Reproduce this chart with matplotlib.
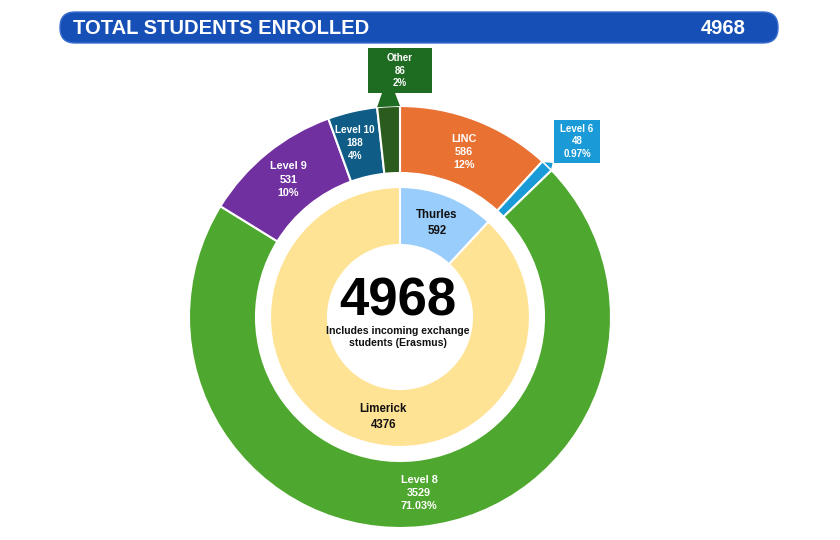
import numpy as np
import matplotlib
matplotlib.use("Agg")
import matplotlib.pyplot as plt
from matplotlib.patches import FancyBboxPatch, Rectangle, Polygon

plt.rcParams['font.family'] = ['Liberation Sans', 'DejaVu Sans']

total = 4968

# outer ring: level of study
levels = ['LINC', 'Level 6', 'Level 8', 'Level 9', 'Level 10', 'Other']
level_counts = [586, 48, 3529, 531, 188, 86]
level_pcts = ['12%', '0.97%', '71.03%', '10%', '4%', '2%']
level_colors = ['#e97132', '#1a9bd7', '#4ea72e', '#7030a0', '#0f5d87', '#2b5b1d']

# inner ring: campus
campuses = ['Thurles', 'Limerick']
campus_counts = [592, 4376]
campus_colors = ['#99cdfb', '#ffe394']

W, H = 840, 540
fig = plt.figure(figsize=(8.4, 5.4), dpi=100)
ax = fig.add_axes([0, 0, 1, 1])
ax.set_xlim(0, W)
ax.set_ylim(0, H)
ax.set_aspect('equal')
ax.axis('off')

cx, cy = 400, H - 317
r_out, w_out = 211, 67
r_in, w_in = 130, 58

# banner
ax.add_patch(FancyBboxPatch((60, H - 43), 718, 31,
                            boxstyle="round,pad=0,rounding_size=15",
                            fc='#1650b7', ec='#3a6fd0', lw=1))
ax.text(73, H - 28, 'TOTAL STUDENTS ENROLLED', color='white', fontsize=14.5,
        fontweight='bold', va='center', ha='left')
ax.text(746, H - 28, f'{total}', color='white', fontsize=14.5,
        fontweight='bold', va='center', ha='right')

wo, _ = ax.pie(level_counts, radius=r_out, center=(cx, cy), startangle=90,
               counterclock=False, colors=level_colors,
               wedgeprops=dict(width=w_out, edgecolor='white', linewidth=1.5))
wi, _ = ax.pie(campus_counts, radius=r_in, center=(cx, cy), startangle=90,
               counterclock=False, colors=campus_colors,
               wedgeprops=dict(width=w_in, edgecolor='white', linewidth=1.5))
ax.set_xlim(0, W)
ax.set_ylim(0, H)

def polar(ang, r):
    a = np.deg2rad(ang)
    return cx + r * np.cos(a), cy + r * np.sin(a)

# labels inside outer ring (radius, angle nudge, size)
label_pos = {'LINC': (177, 0, 7.8), 'Level 8': (177, 0, 7.8),
             'Level 9': (177, 0, 7.8), 'Level 10': (180, 1.5, 7.2)}
for w, name, n, p in zip(wo, levels, level_counts, level_pcts):
    if name not in label_pos:
        continue
    r, nudge, fs = label_pos[name]
    mid = (w.theta1 + w.theta2) / 2 + nudge
    x, y = polar(mid, r)
    ax.text(x, y, f'{name}\n{n}\n{p}', color='white', fontsize=fs,
            fontweight='bold', ha='center', va='center', linespacing=1.4)

# callouts for the thin slices
callouts = {'Other': (368, 48, 64, 45), 'Level 6': (554, 120, 46, 43)}
for w, name, n, p, c in zip(wo, levels, level_counts, level_pcts, level_colors):
    if name not in callouts:
        continue
    bx, by, bw, bh = callouts[name]
    box_c = '#1e6b22' if name == 'Other' else c
    ax.add_patch(Rectangle((bx, H - by - bh), bw, bh, fc=box_c, ec='none', zorder=3))
    ax.text(bx + bw / 2, H - by - bh / 2, f'{name}\n{n}\n{p}', color='white',
            fontsize=7, fontweight='bold', ha='center', va='center',
            linespacing=1.35, zorder=4)
    p1 = polar(w.theta1, r_out)
    p2 = polar(w.theta2, r_out)
    if name == 'Other':
        pts = [(382, H - by - bh), (395, H - by - bh), p1, p2]
        ax.add_patch(Polygon(pts, fc=box_c, ec='none', zorder=2))
    else:
        pts = [p1, p2, (bx + 7, H - by - bh), (bx, H - by - bh + 3)]
        ax.add_patch(Polygon(pts, fc=box_c, ec='white', lw=1, zorder=2))

# labels inside inner ring
label_shift = {'Thurles': 0, 'Limerick': 12}
for w, name, n in zip(wi, campuses, campus_counts):
    mid = (w.theta1 + w.theta2) / 2 + label_shift[name]
    x, y = polar(mid, r_in - w_in / 2)
    ax.text(x, y, f'{name}\n{n}', color='#111111', fontsize=8.3,
            fontweight='bold', ha='center', va='center', linespacing=1.45)

# centre
ax.text(cx - 2, H - 301, f'{total}', fontsize=38, fontweight='bold',
        ha='center', va='center', color='black')
ax.text(cx - 2, H - 337, 'Includes incoming exchange\nstudents (Erasmus)',
        fontsize=7.6, fontweight='bold', ha='center', va='center',
        color='#111111', linespacing=1.3)

fig.savefig('out.png', dpi=100)
